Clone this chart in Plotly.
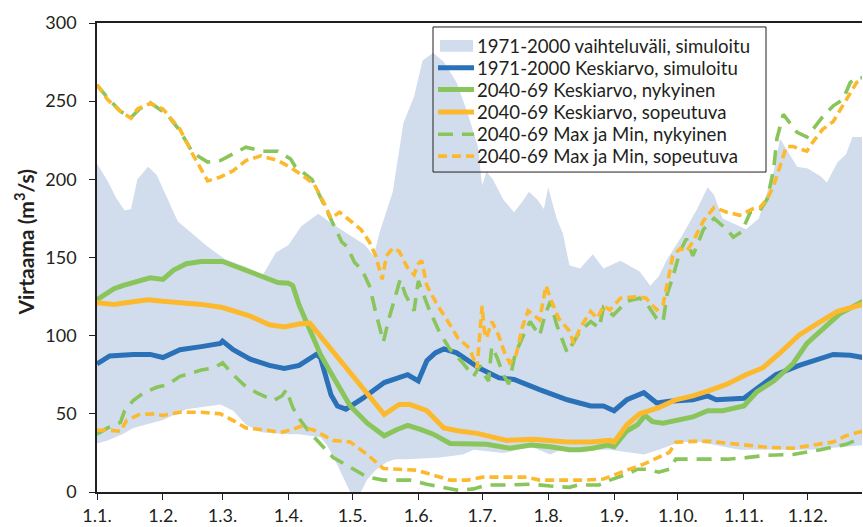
import plotly.graph_objects as go

# ---- data (day of year, value m3/s) ----
tick_days = [0, 31, 59, 90, 120, 151, 181, 212, 243, 273, 304, 334]
tick_labels = ["1.1.", "1.2.", "1.3.", "1.4.", "1.5.", "1.6.", "1.7.", "1.8.", "1.9.", "1.10.", "1.11.", "1.12."]
y_ticks = [0, 50, 100, 150, 200, 250, 300]

band_upper_days = [0, 5, 9, 13, 16, 19, 24, 28, 31, 38, 45, 51, 60, 70, 78, 84, 90, 96, 104, 110, 119, 126, 130, 133, 139, 144, 149, 153, 158, 163, 169, 174, 179, 181, 183, 186, 191, 196, 200, 203, 207, 210, 212, 216, 219, 222, 227, 233, 238, 246, 255, 260, 264, 268, 275, 282, 287, 290, 294, 299, 305, 311, 318, 321, 324, 329, 334, 340, 343, 348, 352, 355, 360]
band_upper_vals = [210, 199, 188, 180, 181, 200, 208, 203, 194, 173, 165, 158, 149, 144, 139, 153, 158, 170, 178, 172, 164, 158, 151, 167, 192, 236, 253, 276, 281, 275, 262, 243, 221, 196, 205, 200, 187, 179, 186, 192, 187, 181, 195, 175, 165, 145, 143, 152, 143, 148, 141, 132, 138, 149, 164, 181, 195, 190, 175, 172, 168, 175, 205, 226, 219, 208, 207, 202, 198, 211, 216, 227, 227]

band_lower_days = [0, 5, 12, 17, 31, 42, 58, 64, 70, 78, 90, 95, 105, 108, 112, 116, 119, 124, 127, 131, 136, 140, 146, 161, 172, 177, 191, 204, 213, 218, 241, 257, 264, 274, 283, 302, 315, 335, 360]
band_lower_vals = [31, 33, 37, 41, 46, 53, 56, 52, 43, 38, 37, 37, 35, 30, 20, 8, 0, 0, 8, 14, 19, 21, 21, 22, 24, 27, 25, 29, 24, 27, 27, 24, 27, 32, 32, 27, 27, 27, 30]

blue_days = [0, 6, 17, 25, 31, 39, 49, 58, 59, 64, 72, 81, 88, 95, 103, 105, 110, 113, 117, 125, 135, 146, 151, 155, 159, 163, 169, 180, 189, 196, 208, 221, 232, 238, 243, 249, 257, 263, 269, 280, 287, 291, 304, 312, 319, 330, 340, 346, 354, 360]
blue_vals = [82, 87, 88, 88, 86, 91, 93, 95, 96.5, 91, 85, 81, 79, 81, 88, 86, 62, 55, 53, 60, 70, 75, 71, 84, 89, 91.5, 89, 79, 73, 72, 65.5, 59, 55, 55, 52, 59, 63.5, 57, 58, 59, 61.5, 59, 60, 68, 75, 81, 85, 88, 87.5, 86]

green_days = [0, 8, 12, 19, 25, 31, 36, 42, 49, 59, 69, 78, 85, 90, 92, 95, 100, 105, 110, 115, 119, 127, 135, 141, 146, 152, 158, 166, 175, 183, 194, 204, 213, 222, 227, 233, 240, 243, 249, 254, 257.5, 261, 266, 272, 280, 287, 294, 304, 310, 318, 327, 333.6, 343, 349, 360]
green_vals = [123, 130, 132, 135, 137, 136, 142, 146, 147.5, 147.5, 142, 137, 134, 133.5, 132, 119.5, 103, 88, 76, 64, 55, 44, 36, 40, 42.6, 40, 37, 31, 30.5, 30.5, 28, 30, 29, 27, 27, 28, 30, 29, 39, 43, 49, 45, 44, 46, 48, 52, 52, 55, 64, 71, 82, 95, 106, 114, 122]

orange_days = [0, 8, 16, 24, 31, 49, 59, 72, 81, 88, 95, 100, 135, 142, 147, 155, 163, 170, 178.6, 192.6, 205, 221, 232, 241, 243, 249, 255, 264, 272, 280, 288, 296, 305, 313, 321, 330, 340, 348, 360]
orange_vals = [121, 120, 121.5, 123, 122, 120, 118, 112.5, 107, 105.5, 107.5, 108, 49.6, 56, 56, 52, 41, 39, 37.5, 33, 33.7, 32, 32, 33, 32, 43, 50, 54, 59, 61.5, 65, 69, 75, 79.5, 89, 100.5, 109, 115.5, 120]

green_max_days = [0, 5, 11, 16, 20, 25, 33, 39, 45, 52, 58, 64, 70, 78, 85, 91, 93, 101, 107, 110, 115, 117.5, 121, 124.6, 128, 131, 134.6, 137, 139, 142.5, 145, 149, 151, 156, 161, 166, 171, 177, 180, 182, 184, 185.5, 188, 191, 193.5, 196.5, 200, 203.5, 208, 210.5, 213, 216, 221, 227, 232, 236, 238, 242.6, 249, 255, 258, 263, 266, 268, 270.5, 274, 277, 280, 285, 290, 296, 299, 303, 307, 311, 315, 318, 319.5, 322.5, 325.6, 329, 333.6, 336.5, 341, 346, 350.5, 354, 357, 360]
green_max_vals = [260.5, 252, 243.5, 239.6, 245, 249, 241.5, 231, 217, 211, 212, 216, 220.6, 218, 218, 213, 208.5, 200, 183, 175, 160, 157, 147, 142, 132, 115, 96, 110, 120, 136, 126, 116, 135, 117, 102, 91, 84, 74, 81, 75, 71, 93, 86, 75, 69, 88, 99, 109, 100, 113, 122, 107, 89, 103, 109, 105, 118, 113, 122, 124, 121, 111, 109, 127, 137, 154, 162, 151, 168, 175, 168, 163, 166.5, 179, 179, 187.5, 206.6, 226, 241.5, 236, 230, 227, 232, 240, 247, 251, 262, 265, 265]

orange_max_days = [0, 5, 11, 16, 19, 25, 31, 39, 45, 52, 58, 64, 70, 77, 85, 91, 96, 102, 107, 110, 114, 119, 124, 128, 131, 134, 136, 139, 142, 145.7, 149, 151, 152.6, 155, 160, 164.5, 169.6, 175, 178.6, 180, 181, 182, 183, 185.6, 188.6, 191.8, 194, 197, 199.8, 202.6, 205, 208, 211, 213.6, 217, 222, 224, 227, 232, 235, 238, 241, 246, 254, 258, 263, 266, 267.6, 269, 270.6, 274, 277, 280, 285, 290, 296, 302, 308, 311.6, 315, 318, 321, 324, 327, 333.6, 336.5, 341, 346, 350.5, 354, 357, 360]
orange_max_vals = [260.5, 251, 243.5, 239, 245, 248.5, 245, 232, 216, 199, 201.5, 205.5, 212, 215, 212, 207.6, 203, 197, 184, 175, 179, 173.5, 168, 160, 151, 136, 151, 156, 154, 144, 139, 146, 148, 132, 119.5, 110, 98.5, 92, 79.5, 103, 119, 103, 98.5, 109, 100.6, 88, 82.6, 88, 105, 116, 113, 110, 132, 122, 111, 103, 95, 105, 115.5, 111, 119, 116.5, 124, 125, 124, 116.5, 119.6, 130, 138.6, 151, 155.7, 153.8, 160, 173.5, 182, 179, 177, 181, 182, 187.5, 196, 208.5, 221, 221, 218, 224, 232, 237, 247, 255.5, 262, 264]

green_min_days = [0, 5, 11, 13, 17, 22, 28, 33, 39, 49, 55, 59, 64, 69, 75, 83, 87, 89, 92, 95.5, 100, 105, 111, 117.5, 127, 134.6, 147, 155, 163, 170, 177, 183, 194, 204, 213, 222, 226, 236, 241, 249, 254, 258, 264, 269, 272, 280, 288, 296, 305, 315, 327, 340, 352, 355, 360]
green_min_vals = [37, 41, 44.5, 52, 58.5, 63.5, 67, 68.6, 74, 78, 79.5, 82.6, 75, 68.6, 63.5, 58.5, 61.6, 65.5, 54, 46, 38, 30.5, 22, 17, 9.5, 7.6, 7.6, 5, 3, 1, 2, 4.5, 4.5, 5, 3.8, 3, 4.5, 4.5, 7.6, 11.4, 14.6, 14.6, 12.7, 14.6, 21, 21, 21, 21, 22, 23.5, 24, 27, 30.5, 32, 35]

orange_min_days = [0, 6, 11, 14, 20, 27, 31, 39, 49, 58, 64, 70, 80, 86, 92, 95.5, 102, 111, 119, 127, 134.6, 142.5, 150, 158, 166, 174, 181.5, 190, 202, 208, 221, 230, 238, 242.6, 249, 257, 264, 269, 272, 280, 288, 296, 305, 315, 327, 336.5, 346, 352, 357, 360]
orange_min_vals = [39.5, 39.5, 38.8, 46, 49.6, 50, 49, 51, 51, 50, 45.7, 41, 39.5, 38, 40, 42, 39.5, 33, 32, 24, 15, 14.6, 14, 10.8, 7.6, 7.6, 9.5, 9.5, 9.5, 7.6, 7.6, 7.6, 8.3, 10.8, 14, 17.8, 22, 25.4, 31.8, 32.4, 32.4, 31, 30, 28.6, 28, 30, 32, 36, 38, 39]

series_names = [
    "1971-2000 vaihteluväli, simuloitu",
    "1971-2000 Keskiarvo, simuloitu",
    "2040-69 Keskiarvo, nykyinen",
    "2040-69 Keskiarvo, sopeutuva",
    "2040-69 Max ja Min, nykyinen",
    "2040-69 Max ja Min, sopeutuva",
]
y_title = "<b>Virtaama (m<sup>3</sup>/s)</b>"

BAND = "#D1DDEC"
BLUE = "#2A71B8"
GREEN = "#89C55B"
ORANGE = "#FDB92E"
INK = "#231F20"
FONT = "Lato"
GREEN_DASH = "15px,9px"
ORANGE_DASH = "9px,5px"

W, H = 863, 527
PLOT_L, PLOT_R, PLOT_T, PLOT_B = 97, 862, 23, 495   # plot box on the page
ML, MT = PLOT_L, PLOT_T
MR, MB = W - PLOT_R, H - PLOT_B
PW = PLOT_R - PLOT_L
PH = PLOT_B - PLOT_T


def px_x(px):
    return (px - PLOT_L) / PW


def px_y(py):
    return (PLOT_B - py) / PH


fig = go.Figure()
fig.add_trace(go.Scatter(x=band_lower_days, y=band_lower_vals, mode="lines",
                         line=dict(width=0, color=BAND), showlegend=False, hoverinfo="skip"))
fig.add_trace(go.Scatter(x=band_upper_days, y=band_upper_vals, mode="lines", fill="tonexty",
                         fillcolor=BAND, line=dict(width=0, color=BAND), name=series_names[0]))
fig.add_trace(go.Scatter(x=blue_days, y=blue_vals, mode="lines",
                         line=dict(width=5, color=BLUE), name=series_names[1]))
fig.add_trace(go.Scatter(x=green_days, y=green_vals, mode="lines",
                         line=dict(width=5, color=GREEN), name=series_names[2]))
fig.add_trace(go.Scatter(x=orange_days, y=orange_vals, mode="lines",
                         line=dict(width=5, color=ORANGE), name=series_names[3]))

gx = green_max_days + [None] + green_min_days
gy = green_max_vals + [None] + green_min_vals
fig.add_trace(go.Scatter(x=gx, y=gy, mode="lines", connectgaps=False,
                         line=dict(width=3.6, color=GREEN, dash=GREEN_DASH), name=series_names[4]))
ox = orange_max_days + [None] + orange_min_days
oy = orange_max_vals + [None] + orange_min_vals
fig.add_trace(go.Scatter(x=ox, y=oy, mode="lines", connectgaps=False,
                         line=dict(width=3.6, color=ORANGE, dash=ORANGE_DASH), name=series_names[5]))

# ---- hand-built legend (transparent box, tight rows as in the reference) ----
row_y = [46, 68, 90, 112.5, 135, 157]
sym_x0, sym_x1, text_x = 440, 473, 475
shapes = [dict(type="rect", xref="paper", yref="paper", layer="above",
               x0=px_x(433), x1=px_x(766), y0=px_y(173), y1=px_y(27),
               line=dict(color=INK, width=1), fillcolor="rgba(0,0,0,0)")]
shapes.append(dict(type="rect", xref="paper", yref="paper", layer="above",
                   x0=px_x(sym_x0), x1=px_x(sym_x1), y0=px_y(row_y[0] + 6), y1=px_y(row_y[0] - 6),
                   line=dict(width=0), fillcolor=BAND))
sym_styles = [(BLUE, 5, "solid"), (GREEN, 5, "solid"), (ORANGE, 5, "solid"),
              (GREEN, 3.6, GREEN_DASH), (ORANGE, 3.6, ORANGE_DASH)]
for (col, wdt, dsh), ry in zip(sym_styles, row_y[1:]):
    shapes.append(dict(type="line", xref="paper", yref="paper", layer="above",
                       x0=px_x(sym_x0 - 2), x1=px_x(sym_x1 + 1), y0=px_y(ry), y1=px_y(ry),
                       line=dict(color=col, width=wdt, dash=dsh)))
annotations = [dict(text=name, xref="paper", yref="paper", x=px_x(text_x), y=px_y(ry),
                    xanchor="left", yanchor="middle", showarrow=False,
                    font=dict(family=FONT, size=18.6, color=INK))
               for name, ry in zip(series_names, row_y)]
annotations.append(dict(text=y_title, xref="paper", yref="paper", x=px_x(24), y=px_y(244),
                        xanchor="center", yanchor="middle", showarrow=False, textangle=-90,
                        font=dict(family=FONT, size=21, color=INK)))

fig.update_layout(
    width=W, height=H,
    margin=dict(l=ML, r=MR, t=MT, b=MB),
    paper_bgcolor="white", plot_bgcolor="white",
    font=dict(family=FONT, color=INK, size=18),
    showlegend=False,
    shapes=shapes,
    annotations=annotations,
)
fig.update_xaxes(range=[0, 359.5], tickvals=tick_days, ticktext=tick_labels,
                 showline=True, linecolor=INK, linewidth=1.5, mirror=True,
                 ticks="outside", ticklen=6, tickcolor=INK, ticklabelstandoff=1,
                 showgrid=False, zeroline=False, tickfont=dict(size=18))
fig.update_yaxes(range=[0, 300], tickvals=y_ticks,
                 showline=True, linecolor=INK, linewidth=1.5,
                 ticks="outside", ticklen=6, tickcolor=INK, ticklabelstandoff=9,
                 showgrid=False, zeroline=False, tickfont=dict(size=18))

# the figure fills the whole 863x527 window: drop the page's default body margin
fig.write_html("out.html", config={"displayModeBar": False},
               post_script="document.body.style.margin='0';document.body.style.overflow='hidden';")
